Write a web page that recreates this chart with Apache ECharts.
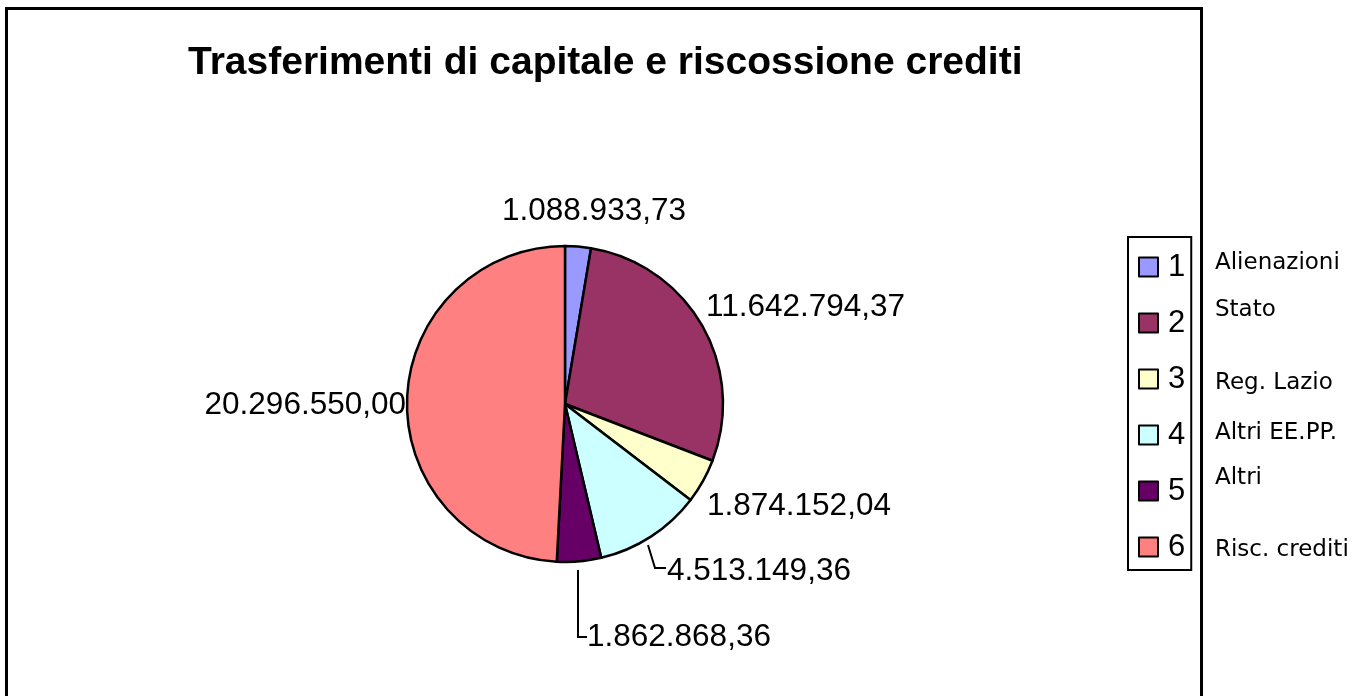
<!DOCTYPE html>
<html>
<head>
<meta charset="utf-8">
<script src="https://cdn.jsdelivr.net/npm/echarts@6/dist/echarts.min.js"></script>
<style>
html,body{margin:0;padding:0;background:#fff;}
#chart{width:1363px;height:696px;}
</style>
</head>
<body>
<div id="chart"></div>
<script>
const categories = ['Alienazioni', 'Stato', 'Reg. Lazio', 'Altri EE.PP.', 'Altri', 'Risc. crediti'];
const legendNumbers = ['1', '2', '3', '4', '5', '6'];
const values = [1088933.73, 11642794.37, 1874152.04, 4513149.36, 1862868.36, 20296550.00];
const valueLabels = ['1.088.933,73', '11.642.794,37', '1.874.152,04', '4.513.149,36', '1.862.868,36', '20.296.550,00'];
const colors = ['#9999FF', '#993366', '#FFFFCC', '#CCFFFF', '#660066', '#FF8080'];

// label placement (style)
const labelPos = [
  {x: 594, y: 211, align: 'center'},
  {x: 706, y: 307, align: 'left'},
  {x: 707, y: 506, align: 'left'},
  {x: 667, y: 571, align: 'left', line: [[648, 545], [655, 568], [666, 568]]},
  {x: 587, y: 637, align: 'left', line: [[578, 570], [578, 637], [587, 637]]},
  {x: 406, y: 405, align: 'right'}
];
const catLabelY = [263, 310, 383, 433, 478, 550];

const FONT = '"Liberation Sans", Arial, sans-serif';
const chart = echarts.init(document.getElementById('chart'), null, {renderer: 'canvas'});

const data = categories.map((c, i) => ({
  name: c,
  value: values[i],
  itemStyle: {color: colors[i]},
  labelLine: {show: !!labelPos[i].line}
}));

const graphics = [
  {type: 'rect', shape: {x: 6.5, y: 8.5, width: 1195, height: 760},
   style: {fill: 'none', stroke: '#000', lineWidth: 3}, silent: true, z: 0}
];
categories.forEach((c, i) => {
  graphics.push({
    type: 'text', x: 1215, y: catLabelY[i],
    style: {text: c, fontFamily: '"DejaVu Sans", Verdana, sans-serif', fontSize: 23,
            fill: '#000', verticalAlign: 'middle', align: 'left'}
  });
});

chart.setOption({
  animation: false,
  backgroundColor: '#fff',
  title: {
    text: 'Trasferimenti di capitale e riscossione crediti',
    left: 188, top: 44, padding: 0,
    textStyle: {fontFamily: FONT, fontWeight: 'bold', fontSize: 39, color: '#000'}
  },
  legend: {
    orient: 'vertical',
    left: 1128, top: 237,
    padding: [13, 6, 6, 10],
    itemGap: 22,
    itemWidth: 19, itemHeight: 19,
    icon: 'rect',
    borderColor: '#000', borderWidth: 2,
    itemStyle: {borderColor: '#000', borderWidth: 2},
    selectedMode: false,
    data: categories,
    formatter: name => legendNumbers[categories.indexOf(name)],
    textStyle: {fontFamily: FONT, fontSize: 31, lineHeight: 34, color: '#000', padding: [0, 0, 0, 5]}
  },
  graphic: graphics,
  series: [{
    type: 'pie',
    center: [565, 404],
    radius: 158,
    startAngle: 90,
    clockwise: true,
    avoidLabelOverlap: false,
    silent: true,
    itemStyle: {borderColor: '#000', borderWidth: 2.5},
    label: {
      show: true, position: 'outside',
      formatter: p => valueLabels[p.dataIndex],
      fontFamily: FONT, fontSize: 31.5, color: '#000'
    },
    labelLine: {lineStyle: {color: '#000', width: 2}, length: 10, length2: 10},
    labelLayout: function (params) {
      const p = labelPos[params.dataIndex];
      const r = {x: p.x, y: p.y, align: p.align, verticalAlign: 'middle'};
      if (p.line) r.labelLinePoints = p.line;
      return r;
    },
    data: data
  }]
});
</script>
</body>
</html>
